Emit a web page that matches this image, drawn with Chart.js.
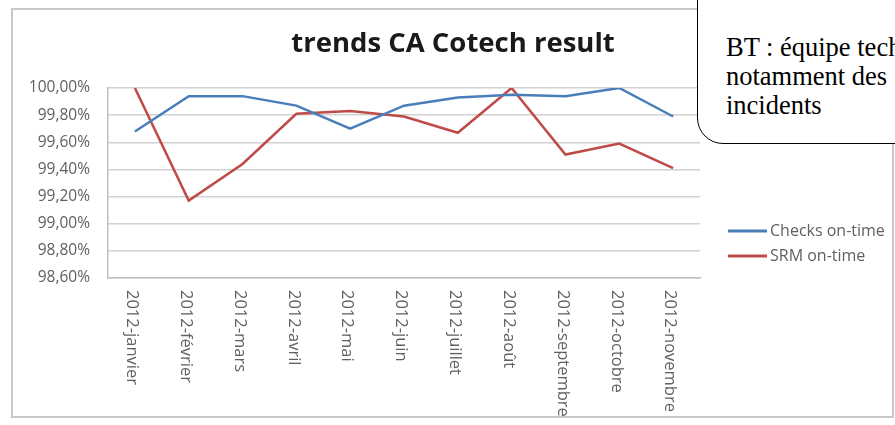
<!DOCTYPE html>
<html>
<head>
<meta charset="utf-8">
<script src="https://cdn.jsdelivr.net/npm/chart.js@4"></script>
<style>
  html, body { margin: 0; padding: 0; background: #fff; }
  body { width: 895px; height: 425px; position: relative; overflow: hidden; }
  #frame {
    position: absolute; left: 11px; top: 8px; width: 883px; height: 410px;
    box-sizing: border-box; border: 2px solid #c8c8c8;
  }
  #wrap { position: absolute; left: 0; top: 0; width: 895px; height: 425px; }
  #callout {
    position: absolute; left: 697px; top: -3px; width: 260px; height: 147px;
    box-sizing: border-box; background: #fff;
    border: 1.5px solid #000; border-bottom-left-radius: 26px;
    font-family: "Liberation Serif", "Times New Roman", serif; font-size: 26.5px;
    line-height: 29px; color: #000; white-space: nowrap; overflow: hidden;
    padding: 35px 0 0 28px;
  }
</style>
</head>
<body>
<div id="frame"></div>
<div id="wrap"><canvas id="chart" width="895" height="425"></canvas></div>
<div id="callout">BT : équipe technique<br>notamment des<br>incidents</div>

<script>
// ── Data ──────────────────────────────────────────────────────────────────────
const MONTHS = [
  '2012-janvier', '2012-février', '2012-mars', '2012-avril', '2012-mai', '2012-juin',
  '2012-juillet', '2012-août', '2012-septembre', '2012-octobre', '2012-novembre'
];
const CHECKS_ON_TIME = [99.68, 99.94, 99.94, 99.87, 99.70, 99.87, 99.93, 99.95, 99.94, 100.00, 99.79];
const SRM_ON_TIME    = [100.00, 99.17, 99.44, 99.81, 99.83, 99.79, 99.67, 100.00, 99.51, 99.59, 99.41];
const Y_MIN = 98.6;
const Y_MAX = 100;
const Y_STEP = 0.2;

const FONT = "'Open Sans', 'DejaVu Sans', sans-serif";
const GREY_TXT = '#606060';

// x labels read top-to-bottom (rotated clockwise), so draw them off the x scale
const rotatedLabels = {
  id: 'rotatedLabels',
  afterDraw(chart) {
    const xs = chart.scales.x;
    const ctx = chart.ctx;
    ctx.save();
    ctx.font = `16.5px ${FONT}`;
    ctx.fillStyle = GREY_TXT;
    ctx.textAlign = 'left';
    ctx.textBaseline = 'middle';
    xs.getLabels().forEach((lbl, i) => {
      ctx.save();
      ctx.translate(xs.getPixelForValue(i) - 3, xs.top + 12);
      ctx.rotate(Math.PI / 2);
      ctx.fillText(lbl, 0, 0);
      ctx.restore();
    });
    ctx.restore();
  }
};

// legend on the right, line swatch + label, from the datasets
const sideLegend = {
  id: 'sideLegend',
  afterDraw(chart) {
    const ctx = chart.ctx;
    const x0 = chart.scales.yR.left + 28;
    ctx.save();
    ctx.font = `16px ${FONT}`;
    ctx.textBaseline = 'middle';
    chart.data.datasets.forEach((ds, i) => {
      const y = 231 + i * 25;
      ctx.strokeStyle = ds.borderColor;
      ctx.lineWidth = 3;
      ctx.beginPath();
      ctx.moveTo(x0, y);
      ctx.lineTo(x0 + 39, y);
      ctx.stroke();
      ctx.fillStyle = GREY_TXT;
      ctx.fillText(ds.label, x0 + 42, y);
    });
    ctx.restore();
  }
};

new Chart(document.getElementById('chart').getContext('2d'), {
  type: 'line',
  data: {
    labels: MONTHS,
    datasets: [
      {
        label: 'Checks on-time',
        data: CHECKS_ON_TIME,
        borderColor: '#4a7ebb',
        borderWidth: 2.5,
        pointRadius: 0,
        tension: 0,
      },
      {
        label: 'SRM on-time',
        data: SRM_ON_TIME,
        borderColor: '#be4b48',
        borderWidth: 2.5,
        pointRadius: 0,
        tension: 0,
      }
    ]
  },
  options: {
    responsive: false,
    animation: false,
    layout: { padding: { left: 13, right: 2, top: 10, bottom: 8 } },
    plugins: {
      legend: { display: false },
      tooltip: { enabled: false },
      title: {
        display: true,
        text: 'trends CA Cotech result',
        color: '#1a1a1a',
        font: { family: FONT, size: 27.5, weight: 'bold' },
        padding: { top: 18, bottom: 27 }
      }
    },
    scales: {
      x: {
        offset: true,
        grid: { display: false },
        border: { display: true, color: '#c0c0c0', width: 1.5 },
        ticks: { display: false },
        afterFit: s => { s.height = 139; }
      },
      y: {
        min: Y_MIN,
        max: Y_MAX,
        grid: { color: '#d2d2d2', lineWidth: 1.5, drawTicks: false },
        border: { display: true, color: '#c0c0c0', width: 1.5 },
        ticks: {
          stepSize: Y_STEP,
          padding: 18,
          color: GREY_TXT,
          font: { family: FONT, size: 15.5 },
          callback: v => v.toFixed(2).replace('.', ',') + '%'
        },
        afterFit: s => { s.width = 95; }
      },
      yR: {
        position: 'right',
        display: true,
        grid: { display: false },
        border: { display: false },
        ticks: { display: false },
        afterFit: s => { s.width = 193; }
      }
    }
  },
  plugins: [rotatedLabels, sideLegend]
});
</script>
</body>
</html>
